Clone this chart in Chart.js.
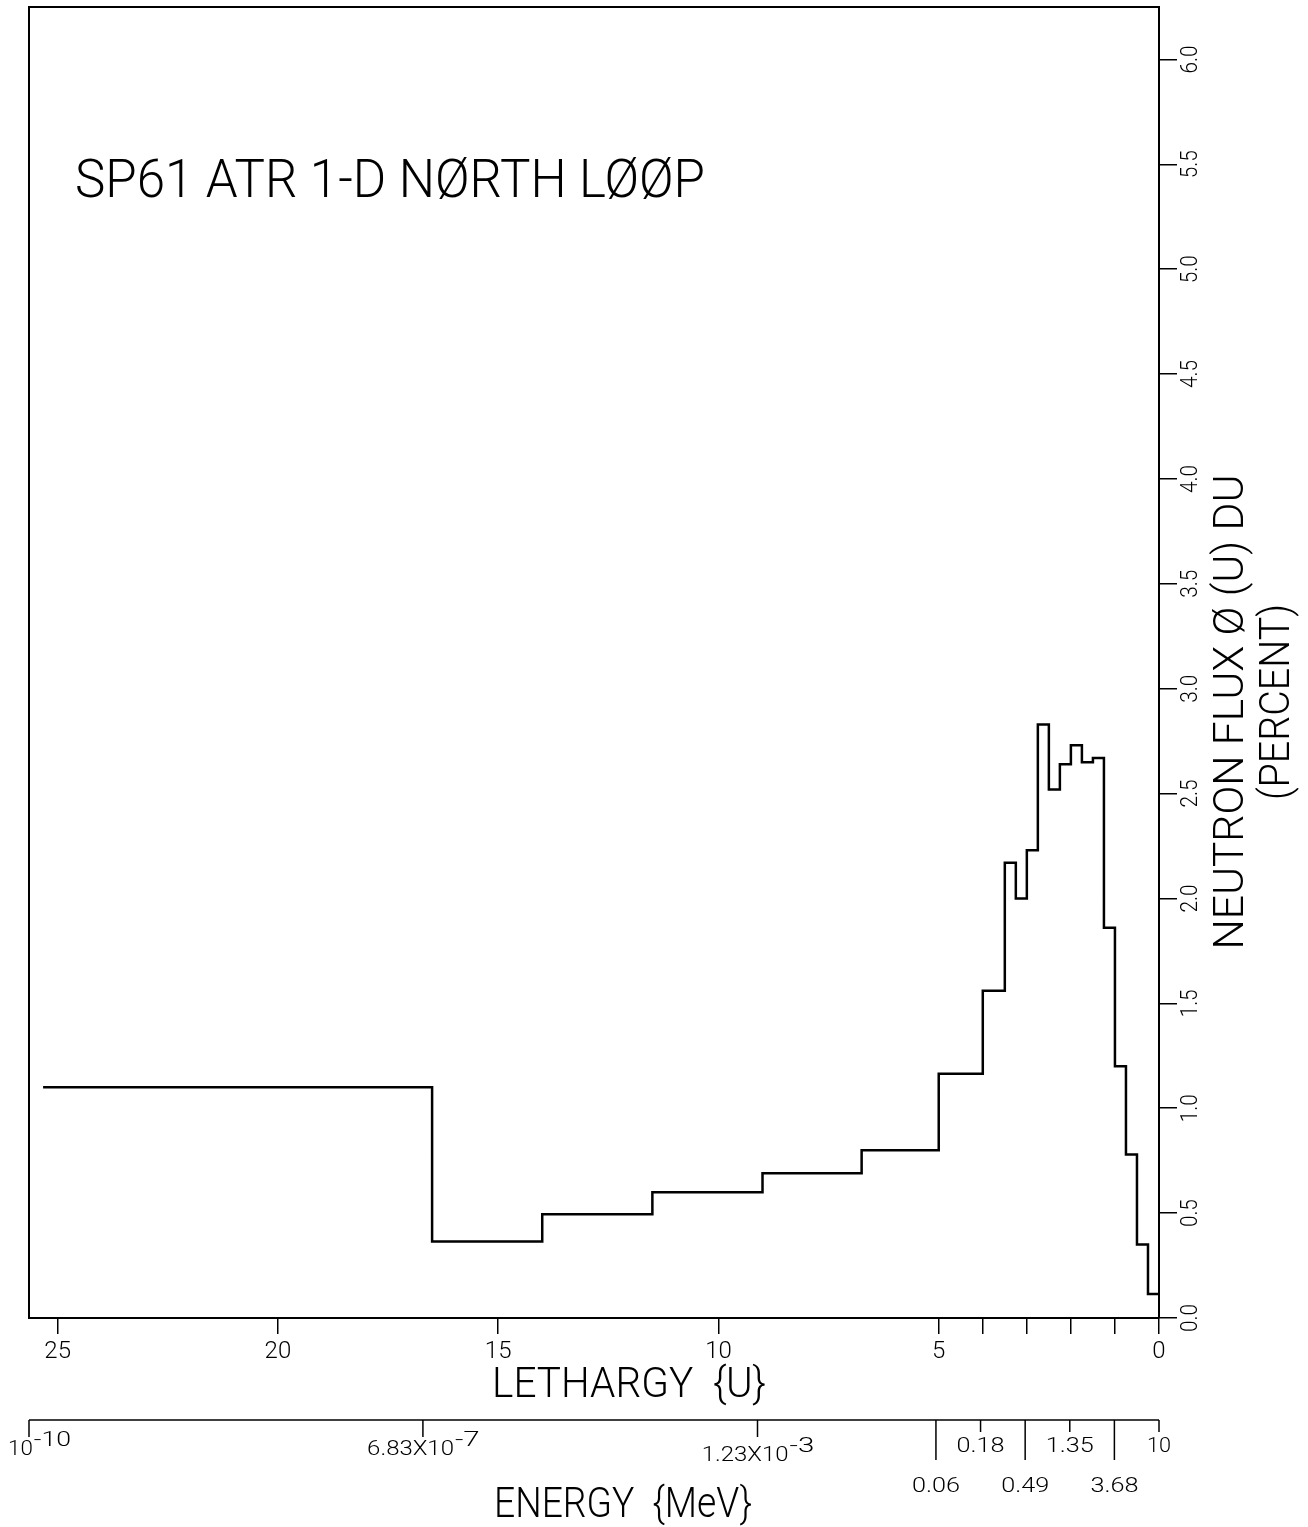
<!DOCTYPE html>
<html>
<head>
<meta charset="utf-8">
<script src="https://cdn.jsdelivr.net/npm/chart.js@4.4.1/dist/chart.umd.min.js"></script>
<style>
  html, body { margin: 0; padding: 0; background: #fff; }
  #wrap { width: 1308px; height: 1527px; }
</style>
</head>
<body>
<div id="wrap"><canvas id="c" width="1308" height="1527"></canvas></div>
<script>
// Group structure: upper lethargy edge of each group (U) and its flux (percent)
const groupUpperU = [25.33, 16.5, 14.0, 11.5, 9.0, 6.75, 5.0, 4.0, 3.5, 3.25, 3.0,
                     2.75, 2.5, 2.25, 2.0, 1.75, 1.5, 1.25, 1.0, 0.75, 0.5, 0.25];
const lowestU = 0;
const fluxPercent = [1.10, 0.365, 0.495, 0.60, 0.69, 0.80, 1.165, 1.56, 2.17, 2.00, 2.23,
                     2.83, 2.52, 2.64, 2.73, 2.65, 2.67, 1.86, 1.20, 0.78, 0.35, 0.115];

// Lethargy axis
const lethargyTicks  = [25, 20, 15, 10, 5, 4, 3, 2, 1, 0];
const lethargyLabels = ['25', '20', '15', '10', '5', '', '', '', '', '0'];

// Flux axis
const fluxTicks      = [0, 0.5, 1.0, 1.5, 2.0, 2.5, 3.0, 3.5, 4.0, 4.5, 5.0, 5.5, 6.0];
const fluxTickLabels = ['0.0', '0.5', '1.0', '1.5', '2.0', '2.5', '3.0', '3.5', '4.0', '4.5', '5.0', '5.5', '6.0'];

// Energy axis (MeV), placed at the matching lethargy
const energyTickU    = [25.33, 16.5, 9, 5, 4, 3, 2, 1, 0];
const energyMantissa = ['10', '6.83X10', '1.23X10', '0.06', '0.18', '0.49', '1.35', '3.68', '10'];
const energyExponent = ['-10', '-7', '-3', '', '', '', '', '', ''];

const titleText  = 'SP61 ATR 1-D NØRTH LØØP';
const xTitle     = 'LETHARGY  {U}';
const eTitle     = 'ENERGY  {MeV}';
const yTitle     = 'NEUTRON FLUX Ø (U) DU';
const yTitle2    = '(PERCENT)';

const FONT = 'Roboto, "DejaVu Sans", sans-serif';

const points = groupUpperU.map((u, i) => ({ x: u, y: fluxPercent[i] }));
points.push({ x: lowestU, y: fluxPercent[fluxPercent.length - 1] });

// Draw text, optionally squeezed to a given width and rotated
function drawText(ctx, str, x, y, o) {
  ctx.save();
  ctx.font = `${o.weight || 300} ${o.size}px ${FONT}`;
  ctx.fillStyle = '#000';
  ctx.textBaseline = o.baseline || 'middle';
  ctx.textAlign = 'left';
  const w = ctx.measureText(str).width;
  const sx = o.width ? o.width / w : 1;
  ctx.translate(x, y);
  if (o.rotate) ctx.rotate(o.rotate);
  ctx.scale(sx, 1);
  const off = o.align === 'center' ? -w / 2 : (o.align === 'right' ? -w : 0);
  ctx.fillText(str, off, 0);
  ctx.restore();
  return w * sx;
}

const decorations = {
  id: 'decorations',
  afterDraw(chart) {
    const { ctx, chartArea: a, scales } = chart;
    const ys = scales.y, xe = scales.xE;
    ctx.save();

    // plot frame (top and left edges)
    ctx.strokeStyle = '#000';
    ctx.lineWidth = 2;
    ctx.beginPath();
    ctx.moveTo(a.left, a.bottom);
    ctx.lineTo(a.left, a.top);
    ctx.lineTo(a.right, a.top);
    ctx.stroke();

    // title inside the plot
    drawText(ctx, titleText, a.left + 46, 197, { size: 53, width: 630, baseline: 'alphabetic' });

    // rotated flux tick labels
    fluxTicks.forEach((v, i) => {
      drawText(ctx, fluxTickLabels[i], a.right + 32, ys.getPixelForValue(v),
               { size: 24, width: 28, align: 'center', rotate: -Math.PI / 2 });
    });

    // flux axis title, two lines
    drawText(ctx, yTitle, a.right + 73, 712, { size: 42, width: 475, align: 'center', rotate: -Math.PI / 2 });
    drawText(ctx, yTitle2, a.right + 119, 702, { size: 42, width: 196, align: 'center', rotate: -Math.PI / 2 });

    // lethargy axis title
    drawText(ctx, xTitle, 492, 1386, { size: 42, width: 274 });

    // energy axis
    const eY = 1420;
    const x0 = xe.getPixelForValue(energyTickU[0]);
    const x1 = xe.getPixelForValue(energyTickU[energyTickU.length - 1]);
    ctx.lineWidth = 1.5;
    ctx.beginPath();
    ctx.moveTo(x0, eY);
    ctx.lineTo(x1, eY);
    ctx.stroke();

    energyTickU.forEach((u, i) => {
      const px = xe.getPixelForValue(u);
      let len, ly;
      const hasExp = energyExponent[i] !== '';
      if (hasExp) { len = 17; ly = i === 2 ? 1456 : 1450; }
      else if ((i - 3) % 2 === 0) { len = 40; ly = 1487; }
      else { len = 12; ly = 1447; }
      ctx.beginPath();
      ctx.moveTo(px, eY);
      ctx.lineTo(px, eY + len);
      ctx.stroke();

      if (hasExp) {
        // mantissa and raised exponent, centred together on the tick
        const charW = 12.4;
        const mW = energyMantissa[i].length * charW;
        const eW = energyExponent[i].length * charW;
        const left = Math.max(8, px - (mW + eW) / 2);
        drawText(ctx, energyMantissa[i], left, ly, { size: 21, width: mW });
        drawText(ctx, energyExponent[i], left + mW + 1, ly - 9, { size: 21, width: eW });
      } else {
        drawText(ctx, energyMantissa[i], px, ly,
                 { size: 21, width: energyMantissa[i].length * 12, align: 'center' });
      }
    });

    // energy axis title
    drawText(ctx, eTitle, 494, 1506, { size: 42, width: 258 });

    ctx.restore();
  }
};

new Chart(document.getElementById('c'), {
  type: 'line',
  data: {
    datasets: [{
      data: points,
      xAxisID: 'x',
      yAxisID: 'y',
      stepped: true,
      borderColor: '#000',
      borderWidth: 2.5,
      pointRadius: 0,
      fill: false,
      tension: 0
    }]
  },
  options: {
    responsive: false,
    animation: false,
    devicePixelRatio: 1,
    layout: { padding: { left: 29, top: 7, right: 0, bottom: 0 } },
    plugins: { legend: { display: false }, tooltip: { enabled: false }, title: { display: false } },
    scales: {
      x: {
        type: 'linear',
        position: 'bottom',
        reverse: true,
        min: 0,
        max: 25.65,
        afterBuildTicks: s => { s.ticks = lethargyTicks.map(v => ({ value: v })); },
        afterFit: s => { s.height = 209; },
        grid: { drawOnChartArea: false, drawTicks: true, tickLength: 16, color: '#000', lineWidth: 1.5 },
        border: { display: true, color: '#000', width: 2 },
        ticks: {
          autoSkip: false, minRotation: 0, maxRotation: 0, color: '#000', padding: 4,
          font: { family: FONT, size: 24, weight: 300 },
          callback: (v, i) => lethargyLabels[i]
        }
      },
      xE: { type: 'linear', display: false, reverse: true, min: 0, max: 25.33 },
      y: {
        type: 'linear',
        position: 'right',
        min: 0,
        max: 6.25,
        afterBuildTicks: s => { s.ticks = fluxTicks.map(v => ({ value: v })); },
        afterFit: s => { s.width = 149; },
        grid: { drawOnChartArea: false, drawTicks: true, tickLength: 18, color: '#000', lineWidth: 1.5 },
        border: { display: true, color: '#000', width: 2 },
        ticks: { display: false }
      }
    }
  },
  plugins: [decorations]
});
</script>
</body>
</html>
